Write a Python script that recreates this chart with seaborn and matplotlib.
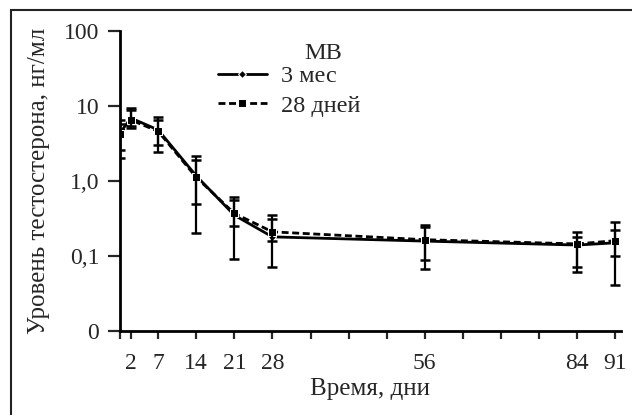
import numpy as np
import pandas as pd
import matplotlib
matplotlib.use('Agg')
import matplotlib.pyplot as plt
import matplotlib.patches as patches
import seaborn as sns

# дни наблюдения
days = [0, 2, 7, 14, 21, 28, 56, 84, 91]

# МВ 3 мес
mv3 = [4.4, 6.9, 4.8, 1.17, 0.35, 0.18, 0.158, 0.14, 0.15]
mv3_hi = [6.5, 9.4, 7.1, 2.15, 0.61, 0.35, 0.26, 0.21, 0.28]
mv3_lo = [2.0, 5.1, 2.4, 0.20, 0.091, 0.071, 0.067, 0.061, 0.041]

# МВ 28 дней
mv28 = [4.2, 6.5, 4.6, 1.12, 0.37, 0.21, 0.165, 0.145, 0.16]
mv28_hi = [5.8, 8.8, 6.6, 1.9, 0.55, 0.31, 0.24, 0.18, 0.22]
mv28_lo = [2.6, 5.4, 3.0, 0.5, 0.25, 0.16, 0.089, 0.071, 0.10]

xticks = [0, 2, 7, 14, 21, 28, 35, 42, 49, 56, 63, 70, 77, 84, 91]
xlabels = ['', '2', '7', '14', '21', '28', '', '', '', '56', '', '', '', '84', '91']
yticks = [0.01, 0.1, 1, 10, 100]
ylabels = ['0', '0,1', '1,0', '10', '100']

sns.set_style('ticks')
plt.rcParams['font.family'] = ['Liberation Serif', 'DejaVu Serif']
plt.rcParams['font.size'] = 17

fig = plt.figure(figsize=(6.32, 4.15), dpi=100)
ax = fig.add_axes([0.19, 0.2024, 0.792, 0.7229])

sns.lineplot(x=days, y=mv3, ax=ax, color='black', linewidth=2,
             marker='D', markersize=4, label='3 мес')
sns.lineplot(x=days, y=mv28, ax=ax, color='black', linewidth=2,
             linestyle=(0, (2.5, 1.3)), marker='s', markersize=6, label='28 дней')

ax.errorbar(days, mv3, yerr=[np.array(mv3) - np.array(mv3_lo), np.array(mv3_hi) - np.array(mv3)],
            fmt='none', ecolor='black', elinewidth=1.6, capsize=3.8, capthick=1.8)
ax.errorbar(days, mv28, yerr=[np.array(mv28) - np.array(mv28_lo), np.array(mv28_hi) - np.array(mv28)],
            fmt='none', ecolor='black', elinewidth=1.6, capsize=3.8, capthick=1.8)

ax.set_yscale('log')
ax.set_ylim(0.01, 100)
ax.set_xlim(0, 92)
ax.set_yticks(yticks)
ax.set_yticklabels(ylabels)
ax.yaxis.set_minor_locator(matplotlib.ticker.NullLocator())
ax.set_xticks(xticks)
ax.set_xticklabels(xlabels)
ax.tick_params(axis='y', length=9, width=1.6, pad=6, labelsize=17)
ax.tick_params(axis='x', length=6, width=1.6, pad=10, labelsize=17)

for s in ['top', 'right']:
    ax.spines[s].set_visible(False)
for s in ['left', 'bottom']:
    ax.spines[s].set_linewidth(2)
    ax.spines[s].set_color('black')

ax.set_ylabel('Уровень тестостерона, нг/мл', fontsize=18)
ax.yaxis.set_label_coords(-0.14, 0.5)
ax.set_xlabel('Время, дни', fontsize=18)
ax.xaxis.set_label_coords(0.5, -0.158)

leg = ax.legend(loc='upper left', bbox_to_anchor=(0.196, 0.886), frameon=False,
                borderaxespad=0, borderpad=0, handlelength=2.0, handletextpad=0.6,
                labelspacing=0.3, fontsize=17.5)
ax.text(0.405, 0.925, 'МВ', transform=ax.transAxes, ha='center', va='center', fontsize=17.5)

fig.add_artist(patches.Rectangle((11 / 632, -0.1), 1.2, 1.1 - 10 / 415, transform=fig.transFigure,
                                 fill=False, edgecolor='#222222', linewidth=1.5))

fig.savefig('out.png', dpi=100)
